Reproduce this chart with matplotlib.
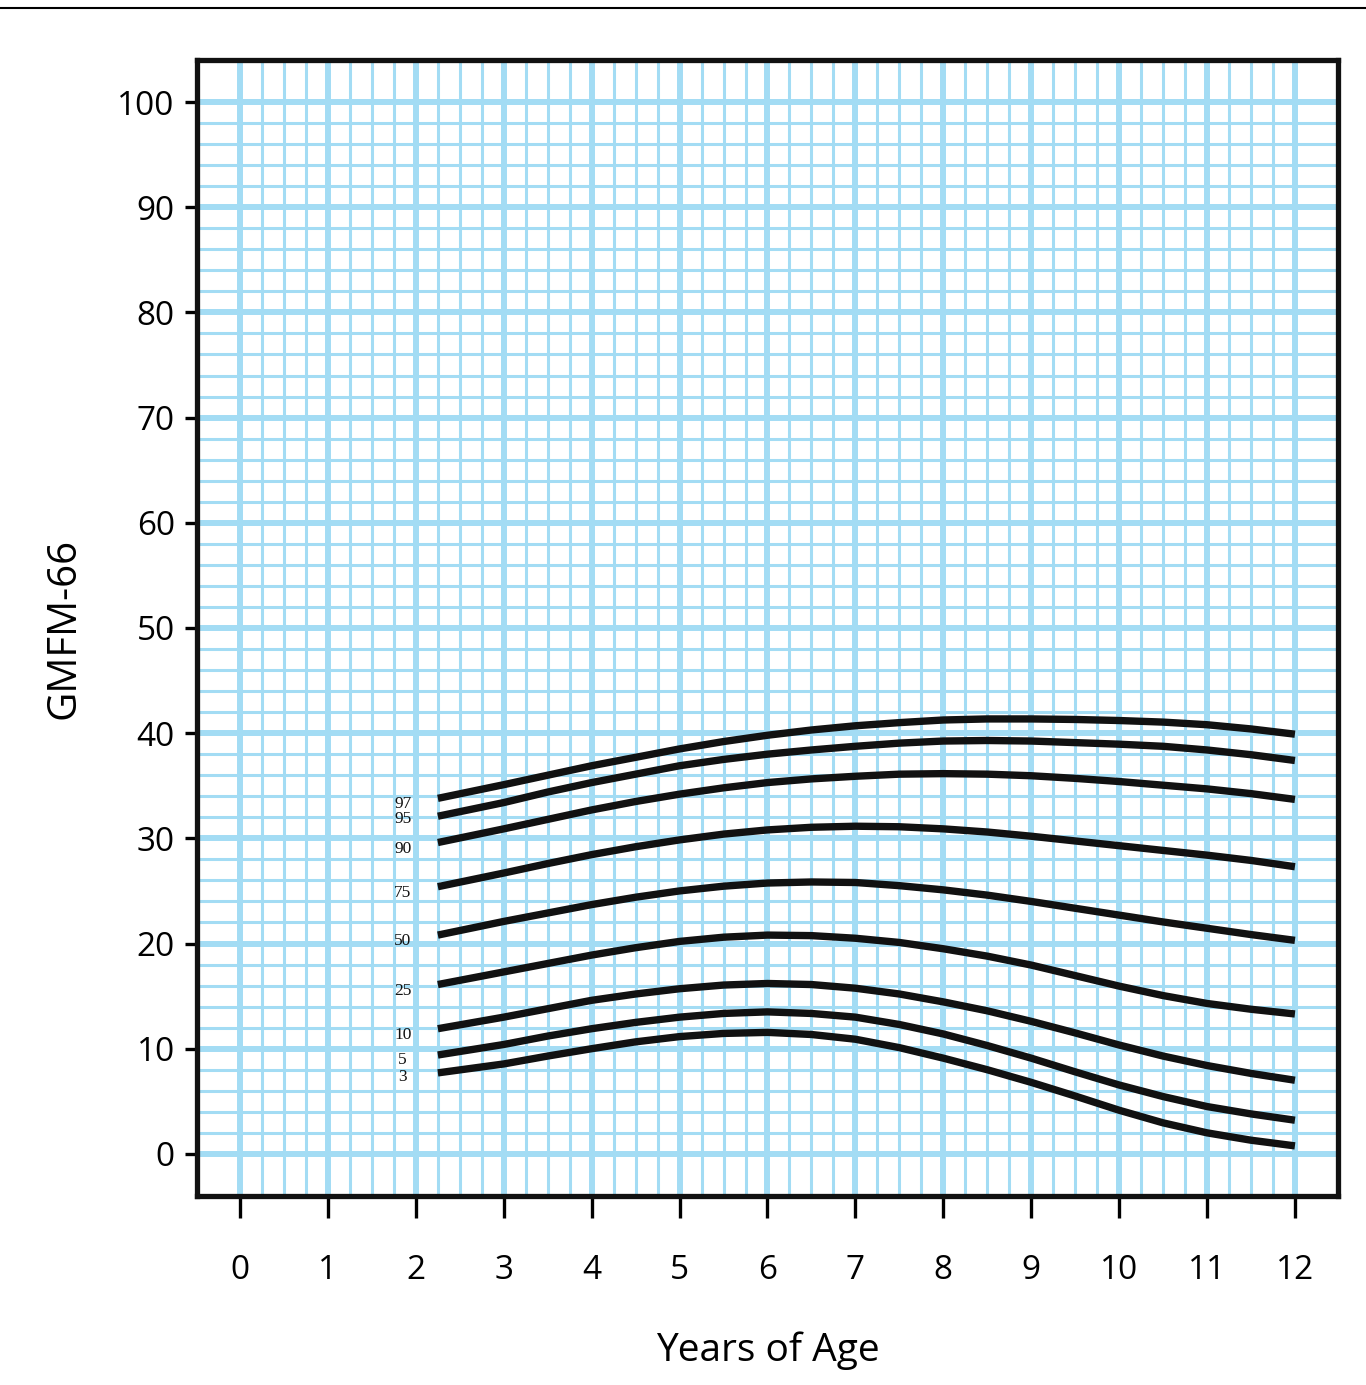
import matplotlib
matplotlib.use('Agg')
import matplotlib.pyplot as plt
from matplotlib.lines import Line2D

# percentile curves (GMFM-66 vs age)
ages = [2.25, 3, 3.5, 4, 4.5, 5, 5.5, 6, 6.5, 7, 7.5, 8, 8.5, 9, 9.5, 10, 10.5, 11, 11.5, 12]
p97 = [33.8, 35.1, 36.0, 36.9, 37.7, 38.5, 39.2, 39.8, 40.3, 40.7, 41.0, 41.25, 41.35, 41.35, 41.3, 41.2, 41.05, 40.8, 40.4, 39.9]
p95 = [32.1, 33.4, 34.4, 35.3, 36.1, 36.9, 37.5, 38.0, 38.4, 38.75, 39.05, 39.25, 39.3, 39.25, 39.1, 38.95, 38.75, 38.4, 37.95, 37.4]
p90 = [29.6, 30.9, 31.8, 32.7, 33.5, 34.2, 34.8, 35.3, 35.65, 35.9, 36.1, 36.15, 36.1, 35.95, 35.7, 35.4, 35.05, 34.7, 34.25, 33.7]
p75 = [25.4, 26.7, 27.6, 28.45, 29.2, 29.85, 30.4, 30.8, 31.05, 31.15, 31.1, 30.9, 30.6, 30.2, 29.75, 29.3, 28.85, 28.4, 27.9, 27.3]
p50 = [20.8, 22.1, 22.9, 23.7, 24.4, 25.0, 25.45, 25.75, 25.85, 25.8, 25.5, 25.1, 24.6, 24.0, 23.35, 22.7, 22.05, 21.45, 20.85, 20.3]
p25 = [16.1, 17.3, 18.1, 18.9, 19.6, 20.2, 20.6, 20.8, 20.75, 20.5, 20.1, 19.5, 18.8, 17.95, 16.95, 15.95, 15.05, 14.3, 13.75, 13.3]
p10 = [11.9, 13.0, 13.8, 14.6, 15.2, 15.7, 16.05, 16.2, 16.1, 15.75, 15.2, 14.45, 13.6, 12.6, 11.5, 10.35, 9.3, 8.4, 7.65, 7.0]
p5 = [9.4, 10.4, 11.2, 11.9, 12.5, 13.0, 13.35, 13.5, 13.35, 13.0, 12.3, 11.4, 10.3, 9.1, 7.8, 6.55, 5.45, 4.5, 3.8, 3.2]
p3 = [7.7, 8.55, 9.3, 10.0, 10.65, 11.15, 11.45, 11.55, 11.35, 10.9, 10.1, 9.1, 8.0, 6.8, 5.5, 4.15, 2.95, 2.0, 1.3, 0.76]

curves = [p97, p95, p90, p75, p50, p25, p10, p5, p3]
pct_labels = ['97', '95', '90', '75', '50', '25', '10', '5', '3']
label_y = [33.3, 31.8, 29.0, 24.8, 20.2, 15.5, 11.3, 8.9, 7.3]

x_ticks = list(range(0, 13))
y_ticks = list(range(0, 101, 10))

plt.rcParams['font.family'] = ['Open Sans', 'DejaVu Sans']

fig = plt.figure(figsize=(13.66, 13.85), dpi=100)
ax = fig.add_axes([0.1442, 0.1365, 0.8353, 0.8202])

grid_c = '#a3dcf4'
# vertical grid: every quarter year, heavier at whole years
for i in range(0, 49):
    xv = i * 0.25
    ax.axvline(xv, color=grid_c, lw=4.3 if i % 4 == 0 else 2.2, zorder=1)
# horizontal grid: every 2 units, heavier at tens
for j in range(0, 51):
    yv = j * 2
    ax.axhline(yv, color=grid_c, lw=4.3 if j % 5 == 0 else 2.2, zorder=1)

for c in curves:
    ax.plot(ages, c, color='#111111', lw=5.3, solid_capstyle='butt',
            solid_joinstyle='round', zorder=3)

for lab, yl in zip(pct_labels, label_y):
    ax.text(1.85, yl, lab, ha='center', va='center', fontsize=12.5,
            family=['Liberation Serif'], color='#111111', zorder=4)

ax.set_xlim(-0.49, 12.49)
ax.set_ylim(-4, 104)
ax.set_xticks(x_ticks)
ax.set_yticks(y_ticks)
ax.tick_params(axis='x', direction='out', length=16, width=2.4, pad=26, labelsize=24)
ax.tick_params(axis='y', direction='out', length=9, width=2.4, pad=7, labelsize=24)
for lbl in ax.get_xticklabels() + ax.get_yticklabels():
    lbl.set_fontweight('medium')
for s in ax.spines.values():
    s.set_linewidth(3.8)
    s.set_color('#111111')

ax.set_ylabel('GMFM-66', fontsize=29, labelpad=24, fontweight='medium')
ax.set_xlabel('Years of Age', fontsize=28, labelpad=32, fontweight='medium')

# rule across the top of the page
fig.add_artist(Line2D([0, 1], [0.9945, 0.9945], color='black', lw=1.5))

fig.savefig('out.png', dpi=100)
